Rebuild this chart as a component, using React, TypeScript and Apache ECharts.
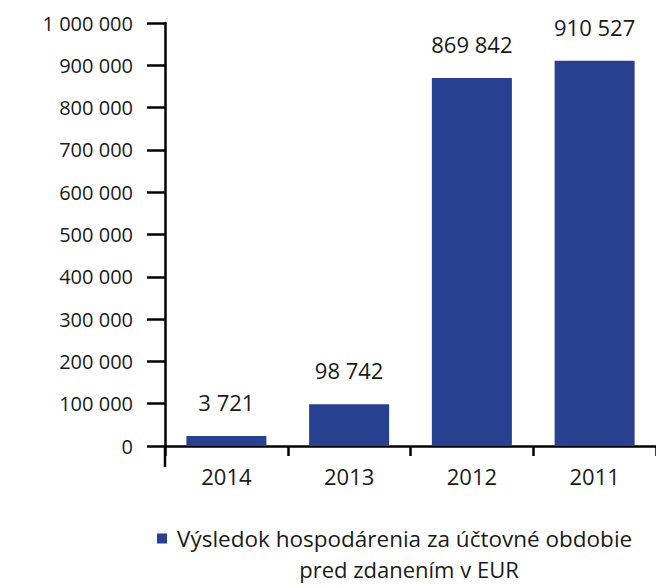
import React, { useEffect, useRef } from "react";
import * as echarts from "echarts";

const categories = ["2014", "2013", "2012", "2011"];
const values = [3721, 98742, 869842, 910527];
const seriesName = "Výsledok hospodárenia za účtovné obdobie pred zdanením v EUR";
const legendLine1 = "Výsledok hospodárenia za účtovné obdobie";
const legendLine2 = "pred zdanením v EUR";
const yMin = 0;
const yMax = 1000000;
const yInterval = 100000;

const FONT = "Open Sans";
const BAR_COLOR = "#27408f";
const TEXT_COLOR = "#1a1a1a";

const fmt = (v: number) => String(v).replace(/\B(?=(\d{3})+(?!\d))/g, " ");

export default function App() {
  const ref = useRef<HTMLDivElement>(null);
  useEffect(() => {
    if (!ref.current) return;
    const chart = echarts.init(ref.current, undefined, { renderer: "svg" });
    chart.setOption({
      animation: false,
      textStyle: { fontFamily: FONT, color: TEXT_COLOR },
      grid: { left: 165, top: 23, width: 495, bottom: 139, containLabel: false },
      legend: {
        left: 157,
        top: 527,
        itemWidth: 10,
        itemHeight: 10,
        icon: "rect",
        padding: 0,
        itemGap: 6,
        formatter: () => legendLine1,
        textStyle: { fontFamily: FONT, fontSize: 22.5, color: TEXT_COLOR, padding: [0, 0, 0, 5] },
        data: [seriesName],
      },
      graphic: [
        {
          type: "text",
          x: 409,
          y: 569,
          style: {
            text: legendLine2,
            fontFamily: FONT,
            fontSize: 22,
            lineHeight: 22,
            fill: TEXT_COLOR,
            align: "center",
            verticalAlign: "middle",
          },
        },
        {
          type: "line",
          shape: { x1: 165, y1: 446, x2: 165, y2: 467 },
          style: { stroke: "#000", lineWidth: 2.5 },
        },
      ],
      xAxis: {
        type: "category",
        data: categories,
        axisLine: { lineStyle: { color: "#000", width: 2.5 } },
        axisTick: { show: true, length: 10, alignWithLabel: false, lineStyle: { color: "#000", width: 2.5 } },
        axisLabel: { margin: 19, fontSize: 22, color: TEXT_COLOR, fontFamily: FONT },
      },
      yAxis: {
        type: "value",
        min: yMin,
        max: yMax,
        interval: yInterval,
        splitLine: { show: false },
        axisLine: { show: true, lineStyle: { color: "#000", width: 2.5 } },
        axisTick: { show: true, length: 18, lineStyle: { color: "#000", width: 2.5 } },
        axisLabel: { margin: 32, fontSize: 20, color: TEXT_COLOR, fontFamily: FONT, formatter: (v: number) => fmt(v) },
      },
      series: [
        {
          name: seriesName,
          type: "bar",
          data: values,
          barWidth: 80,
          barMinHeight: 10,
          itemStyle: { color: BAR_COLOR },
          label: {
            show: true,
            position: "top",
            distance: 23,
            fontSize: 22,
            fontFamily: FONT,
            color: TEXT_COLOR,
            formatter: (p: any) => fmt(p.value),
          },
        },
      ],
    });
    return () => chart.dispose();
  }, []);
  return <div ref={ref} style={{ position: "absolute", left: 0, top: 0, width: 656, height: 585 }} />;
}
